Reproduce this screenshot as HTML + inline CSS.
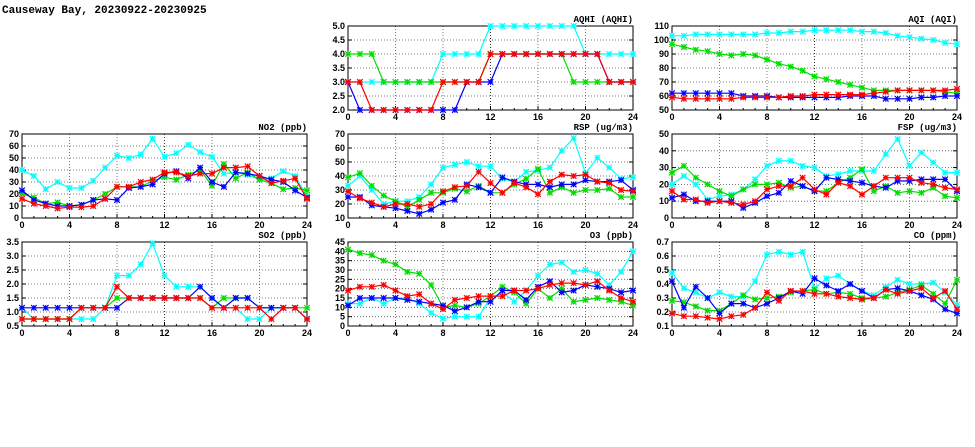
<!DOCTYPE html>
<html><head><meta charset="utf-8"><style>
html,body{margin:0;padding:0;background:#fff;}
svg{display:block;font-family:"Liberation Sans",sans-serif;}
</style></head><body>
<svg id="c" width="975" height="447" viewBox="0 0 975 447" xmlns="http://www.w3.org/2000/svg">
<text x="2" y="13" font-family="Liberation Mono" font-weight="bold" font-size="11">Causeway Bay, 20230922-20230925</text>
</svg>
<script>
const hours = [0,1,2,3,4,5,6,7,8,9,10,11,12,13,14,15,16,17,18,19,20,21,22,23,24];
const xTicks = [0,4,8,12,16,20,24];
const seriesColors = ["#00ffff","#00dd00","#0000ff","#ff0000"];
const seriesNames = ["cyan","green","blue","red"];

const aqhiTicks = [2.0,2.5,3.0,3.5,4.0,4.5,5.0];
const aqhiCyan = [3,3,3,3,3,3,3,3,4,4,4,4,5,5,5,5,5,5,5,5,4,4,4,4,4];
const aqhiGreen = [4,4,4,3,3,3,3,3,3,3,3,3,4,4,4,4,4,4,4,3,3,3,3,3,3];
const aqhiBlue = [3,2,2,2,2,2,2,2,2,2,3,3,3,4,4,4,4,4,4,4,4,4,3,3,3];
const aqhiRed = [3,3,2,2,2,2,2,2,3,3,3,3,4,4,4,4,4,4,4,4,4,4,3,3,3];

const aqiTicks = [50,60,70,80,90,100,110];
const aqiCyan = [103,103,104,104,104,104,104,104,105,105,106,106,107,107,107,107,106,106,105,103,102,101,100,98,97];
const aqiGreen = [97,95,93,92,90,89,90,89,86,83,81,78,74,72,70,68,66,64,64,64,64,64,64,63,62];
const aqiBlue = [62,62,62,62,62,62,60,60,60,59,59,59,59,59,59,60,60,60,58,58,58,59,59,60,60];
const aqiRed = [59,58,58,58,58,58,59,59,59,59,60,60,61,61,61,61,61,62,63,64,64,64,64,64,65];

const no2Ticks = [0,10,20,30,40,50,60,70];
const no2Cyan = [40,35,24,30,25,25,31,42,52,50,53,66,51,54,61,55,51,37,38,36,32,33,39,35,18];
const no2Green = [20,17,12,13,10,11,15,20,26,26,26,31,34,32,36,40,27,45,33,38,32,29,24,25,23];
const no2Blue = [23,15,12,10,10,11,15,16,15,25,26,28,37,39,33,42,30,26,38,37,35,32,30,23,17];
const no2Red = [16,12,10,8,9,9,10,16,26,26,30,32,38,38,35,37,37,42,42,43,35,29,31,33,16];

const rspTicks = [10,20,30,40,50,60,70];
const rspCyan = [33,40,30,20,22,22,25,34,46,48,50,47,47,38,36,43,44,46,58,67,42,53,46,38,39];
const rspGreen = [39,42,33,26,22,18,23,28,28,31,29,33,28,28,34,38,45,28,32,28,30,30,31,25,25];
const rspBlue = [25,25,19,18,17,15,13,16,21,23,34,32,28,39,36,34,34,32,34,34,37,36,36,37,30];
const rspRed = [29,24,21,18,20,20,18,20,29,32,33,43,35,28,35,32,27,36,41,40,41,36,35,30,29];

const fspTicks = [0,10,20,30,40,50];
const fspCyan = [20,25,20,11,13,14,17,23,31,34,34,31,30,25,26,28,28,28,38,47,31,39,33,27,27];
const fspGreen = [27,31,24,20,16,13,17,20,20,21,18,19,16,16,21,24,29,16,19,15,16,15,18,13,12];
const fspBlue = [12,14,10,10,10,10,6,9,13,15,22,19,16,24,23,22,21,19,18,22,22,23,23,23,16];
const fspRed = [16,11,11,9,10,9,8,10,17,19,19,24,17,14,21,19,14,19,24,24,24,21,20,18,17];

const so2Ticks = [0.5,1.0,1.5,2.0,2.5,3.0,3.5];
const so2Cyan = [1.15,0.75,0.75,0.75,0.75,0.75,0.75,1.15,2.3,2.3,2.7,3.45,2.3,1.9,1.9,1.9,1.5,1.15,1.15,0.75,0.75,1.15,1.15,1.15,0.75];
const so2Green = [0.75,0.75,0.75,0.75,0.75,1.15,1.15,1.15,1.5,1.5,1.5,1.5,1.5,1.5,1.5,1.5,1.15,1.5,1.5,1.5,1.15,1.15,1.15,1.15,1.15];
const so2Blue = [1.15,1.15,1.15,1.15,1.15,1.15,1.15,1.15,1.15,1.5,1.5,1.5,1.5,1.5,1.5,1.9,1.5,1.15,1.5,1.5,1.15,1.15,1.15,1.15,0.75];
const so2Red = [0.75,0.75,0.75,0.75,0.75,1.15,1.15,1.15,1.9,1.5,1.5,1.5,1.5,1.5,1.5,1.5,1.15,1.15,1.15,1.15,1.15,0.75,1.15,1.15,0.75];

const o3Ticks = [0,5,10,15,20,25,30,35,40,45];
const o3Cyan = [12,12,15,12,15,15,12,7,4,5,5,5,15,18,13,19,27,33,34,29,30,28,22,29,40];
const o3Green = [41,39,38,35,33,29,28,22,10,11,10,12,16,21,18,12,20,15,20,13,14,15,14,13,11];
const o3Blue = [11,15,15,15,15,14,13,12,11,8,10,13,13,19,19,14,21,24,18,19,22,21,20,18,19];
const o3Red = [19,21,21,22,19,16,17,12,9,14,15,16,16,16,19,19,20,22,23,23,22,24,19,15,13];

const coTicks = [0.1,0.2,0.3,0.4,0.5,0.6,0.7];
const coCyan = [0.48,0.37,0.34,0.30,0.34,0.31,0.31,0.42,0.61,0.63,0.61,0.63,0.37,0.44,0.46,0.40,0.35,0.32,0.38,0.43,0.40,0.40,0.41,0.34,0.25];
const coGreen = [0.28,0.27,0.24,0.21,0.21,0.26,0.32,0.29,0.30,0.31,0.34,0.35,0.36,0.33,0.34,0.33,0.30,0.30,0.31,0.34,0.36,0.39,0.33,0.26,0.43];
const coBlue = [0.42,0.23,0.38,0.30,0.19,0.26,0.26,0.23,0.26,0.30,0.35,0.33,0.44,0.39,0.35,0.40,0.35,0.30,0.36,0.37,0.35,0.32,0.29,0.22,0.19];
const coRed = [0.19,0.17,0.17,0.16,0.15,0.17,0.18,0.23,0.34,0.28,0.35,0.35,0.33,0.33,0.31,0.30,0.29,0.30,0.36,0.33,0.35,0.37,0.30,0.35,0.22];

const panels = [
 {name:"aqhi",title:"AQHI (AQHI)",x0:348,x1:633,y0:26,y1:110,ticks:aqhiTicks,dec:1,s:[aqhiCyan,aqhiGreen,aqhiBlue,aqhiRed]},
 {name:"aqi",title:"AQI (AQI)",x0:672,x1:957,y0:26,y1:110,ticks:aqiTicks,dec:0,s:[aqiCyan,aqiGreen,aqiBlue,aqiRed]},
 {name:"no2",title:"NO2 (ppb)",x0:22,x1:307,y0:134,y1:218,ticks:no2Ticks,dec:0,s:[no2Cyan,no2Green,no2Blue,no2Red]},
 {name:"rsp",title:"RSP (ug/m3)",x0:348,x1:633,y0:134,y1:218,ticks:rspTicks,dec:0,s:[rspCyan,rspGreen,rspBlue,rspRed]},
 {name:"fsp",title:"FSP (ug/m3)",x0:672,x1:957,y0:134,y1:218,ticks:fspTicks,dec:0,s:[fspCyan,fspGreen,fspBlue,fspRed]},
 {name:"so2",title:"SO2 (ppb)",x0:22,x1:307,y0:242,y1:326,ticks:so2Ticks,dec:1,s:[so2Cyan,so2Green,so2Blue,so2Red]},
 {name:"o3",title:"O3 (ppb)",x0:348,x1:633,y0:242,y1:326,ticks:o3Ticks,dec:0,s:[o3Cyan,o3Green,o3Blue,o3Red]},
 {name:"co",title:"CO (ppm)",x0:672,x1:957,y0:242,y1:326,ticks:coTicks,dec:1,s:[coCyan,coGreen,coBlue,coRed]}
];
const NS="http://www.w3.org/2000/svg";
const svg=document.getElementById('c');
function mk(tag,attrs,parent){const e=document.createElementNS(NS,tag);for(const k in attrs)e.setAttribute(k,attrs[k]);(parent||svg).appendChild(e);return e;}
panels.forEach(p=>{
  const g=mk('g',{});
  
  
  const ymin=p.ticks[0],ymax=p.ticks[p.ticks.length-1];
  const xs=h=>p.x0+(h/24)*(p.x1-p.x0);
  const ys=v=>p.y1-(v-ymin)/(ymax-ymin)*(p.y1-p.y0);
  // grid
  p.ticks.forEach((t,i)=>{
    const y=ys(t);
    if(i>0&&i<p.ticks.length-1){const l=mk('line',{x1:p.x0,x2:p.x1,y1:y,y2:y,stroke:'#555','stroke-width':0.8,'stroke-dasharray':'1,2'},g);
      }
    const tk=mk('line',{x1:p.x0,x2:p.x0+4,y1:y,y2:y,stroke:'#000'},g);
    const tk2=mk('line',{x1:p.x1,x2:p.x1-4,y1:y,y2:y,stroke:'#000'},g);
    const tx=mk('text',{x:p.x0-3,y:y+3,'text-anchor':'end','font-size':9,'font-weight':'bold'},g);
    tx.textContent=t.toFixed(p.dec);
    
    
  });
  hours.forEach(h=>{const x=xs(h);mk('line',{x1:x,x2:x,y1:p.y1,y2:p.y1-2,stroke:'#000'},g);});
  xTicks.forEach(h=>{
    const x=xs(h);
    if(h>0&&h<24){const l=mk('line',{x1:x,x2:x,y1:p.y0,y2:p.y1,stroke:h==12?'#000':'#555','stroke-width':0.8,'stroke-dasharray':'1,2'},g);
      }
    mk('line',{x1:x,x2:x,y1:p.y1,y2:p.y1-4,stroke:'#000'},g);
    const tx=mk('text',{x:x,y:p.y1+10,'text-anchor':'middle','font-size':9,'font-weight':'bold'},g);
    tx.textContent=h;
    
    
  });
  const fr=mk('rect',{x:p.x0,y:p.y0,width:p.x1-p.x0,height:p.y1-p.y0,fill:'none',stroke:'#000','stroke-width':1},g);
  
  
  const tt=mk('text',{x:p.x1,y:p.y0-4,'text-anchor':'end','font-size':9,'font-weight':'bold','font-family':'Liberation Mono'},g);
  tt.textContent=p.title;
  
  
  p.s.forEach((vals,si)=>{
    const col=seriesColors[si];
    const pts=vals.map((v,i)=>xs(hours[i]).toFixed(1)+','+ys(v).toFixed(1)).join(' ');
    const pl=mk('polyline',{points:pts,fill:'none',stroke:col,'stroke-width':1.2},g);
    
    
    vals.forEach((v,i)=>{
      const x=xs(hours[i]),y=ys(v),r=2.8;
      const m=mk('path',{d:`M${x-r},${y-r}L${x+r},${y+r}M${x-r},${y+r}L${x+r},${y-r}M${x-r},${y}L${x+r},${y}M${x},${y-r}L${x},${y+r}`,stroke:col,'stroke-width':1.2,fill:'none'},g);
      
      
    });
  });
});
</script>
</body></html>
